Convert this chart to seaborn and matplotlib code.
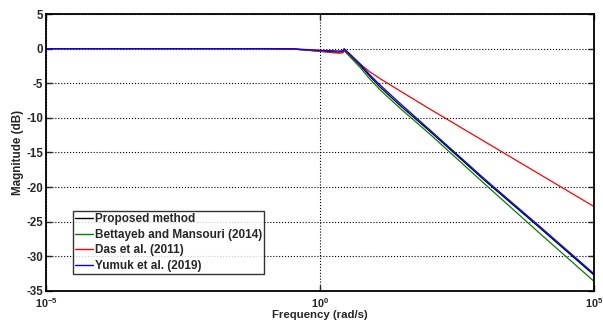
import numpy as np
import pandas as pd
import matplotlib
matplotlib.use("Agg")
import matplotlib.pyplot as plt
import seaborn as sns
from matplotlib.ticker import FixedLocator, NullLocator
from matplotlib.lines import Line2D

# log10 of frequency (rad/s)
log_freq = [-5, -1, -0.5, 0, 0.2, 0.35, 0.42, 0.44, 0.55, 0.73, 0.9, 1.09, 1.46, 2, 3, 4, 5]
proposed = [0, 0, -0.05, -0.35, -0.45, -0.5, -0.45, -0.2, -1.0, -2.4, -3.9, -5.5, -8.2, -11.9, -19.0, -25.8, -32.7]
bettayeb = [0, 0, -0.05, -0.4, -0.55, -0.6, -0.55, -0.3, -1.2, -2.7, -4.3, -5.9, -8.6, -12.3, -19.5, -26.6, -33.6]
das = [0, 0, -0.05, -0.35, -0.55, -0.63, -0.6, -0.1, -0.9, -2.2, -3.3, -4.3, -6.1, -8.7, -13.4, -18.1, -22.8]
yumuk = [0, 0, -0.02, -0.25, -0.3, -0.35, -0.3, 0.0, -0.8, -2.2, -3.7, -5.2, -7.9, -11.7, -18.8, -25.6, -32.5]

labels = ["Proposed method", "Bettayeb and Mansouri (2014)", "Das et al. (2011)", "Yumuk et al. (2019)"]
colors = ["black", "#008000", "red", "blue"]
series = [proposed, bettayeb, das, yumuk]

x_ticks = [1e-5, 1e0, 1e5]
x_ticklabels = [r"$\mathbf{10^{-5}}$", r"$\mathbf{10^{0}}$", r"$\mathbf{10^{5}}$"]
y_ticks = [5, 0, -5, -10, -15, -20, -25, -30, -35]

rows = []
for lab, vals in zip(labels, series):
    for lf, v in zip(log_freq, vals):
        rows.append({"freq": 10.0 ** lf, "mag": v, "method": lab})
df = pd.DataFrame(rows)

sns.set_style("white")
plt.rcParams["font.family"] = ["Liberation Sans", "DejaVu Sans"]
plt.rcParams["font.weight"] = "bold"
plt.rcParams["mathtext.fontset"] = "custom"
plt.rcParams["mathtext.rm"] = "Liberation Sans:bold"
plt.rcParams["mathtext.bf"] = "Liberation Sans:bold"
plt.rcParams["mathtext.it"] = "Liberation Sans:bold"

fig = plt.figure(figsize=(6.03, 3.22), dpi=100)
ax = fig.add_axes([0.0763, 0.0963, 0.9087, 0.8602])

sns.lineplot(data=df, x="freq", y="mag", hue="method", hue_order=labels,
             palette=dict(zip(labels, colors)), linewidth=0.9, ax=ax,
             sort=False, estimator=None, legend=False)

ax.set_xscale("log")
ax.set_xlim(1e-5, 1e5)
ax.set_ylim(-35, 5)
ax.xaxis.set_major_locator(FixedLocator(x_ticks))
ax.xaxis.set_minor_locator(NullLocator())
ax.set_xticklabels(x_ticklabels)
ax.set_yticks(y_ticks)
ax.set_yticklabels([str(t) for t in y_ticks])
ax.tick_params(axis="both", direction="in", length=4, width=1,
               top=True, right=True, bottom=True, left=True)
ax.tick_params(axis="x", pad=4, labelsize=7.8)
ax.tick_params(axis="y", pad=2, labelsize=8.3)
for lab in ax.get_yticklabels():
    lab.set_fontweight("bold")

ax.grid(True, which="major", color="black", linestyle=":", linewidth=0.8)
for sp in ax.spines.values():
    sp.set_color("black")
    sp.set_linewidth(1.3)

ax.set_xlabel("Frequency (rad/s)", fontsize=8.2, fontweight="bold", labelpad=0)
ax.set_ylabel("Magnitude (dB)", fontsize=8.4, fontweight="bold", labelpad=2)

handles = [Line2D([0], [0], color=c, lw=1.0) for c in colors]
leg = ax.legend(handles, labels, loc="lower left", bbox_to_anchor=(0.0487, 0.061),
                borderaxespad=0, frameon=True, fancybox=False, edgecolor="black",
                handlelength=1.5, handletextpad=0.15, borderpad=0.2, labelspacing=0.3,
                prop={"weight": "bold", "size": 8.5})
leg.get_frame().set_linewidth(1.0)

fig.savefig("out.png", dpi=100, facecolor="white")
